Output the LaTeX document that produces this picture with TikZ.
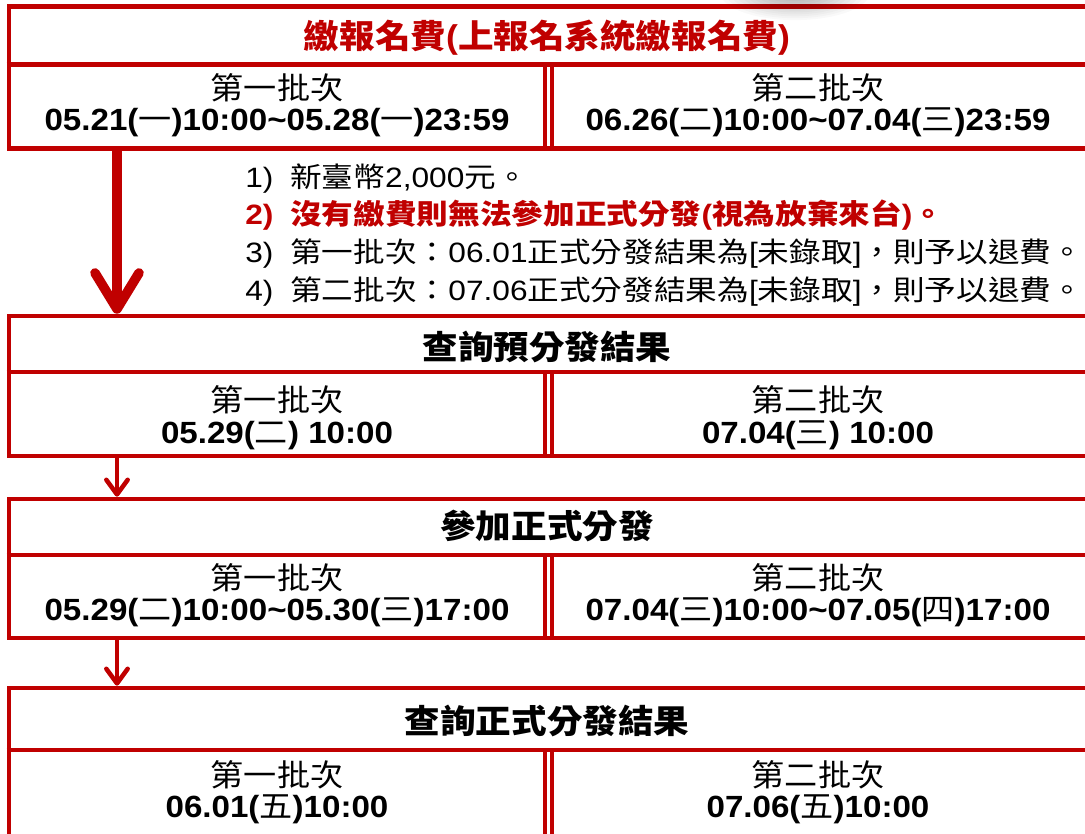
\documentclass[tikz,border=0pt]{standalone}
\usepackage{fontspec}
\setmainfont[FakeStretch=1.08]{Liberation Sans}
\newfontfamily\cjk[FakeStretch=1.08]{Noto Sans CJK TC}
\newfontfamily\latL[FakeStretch=1.13]{Liberation Sans}
\newfontfamily\cjkL[FakeStretch=1.13]{Noto Sans CJK TC}
\usetikzlibrary{arrows.meta}
\definecolor{tred}{RGB}{192,0,0}
\newcommand\zh[1]{{\cjk #1}}
\newcommand\zhr[1]{{\cjk\mdseries #1}}
\newcommand\zl[1]{{\cjkL #1}}
\begin{document}
\begin{tikzpicture}[x=0.75pt,y=-0.75pt,
  box/.style={draw=tred, line width=3.4pt, minimum width=809.25pt, inner sep=0pt},
  rline/.style={draw=tred, line width=3.4pt},
  dline/.style={draw=tred, line width=3pt},
  txt/.style={inner sep=0pt, text height=16.6pt, text depth=0pt, font=\fontsize{23}{26}\selectfont},
  ttl/.style={inner sep=0pt, text height=17.8pt, text depth=0pt, font=\fontsize{24.7}{28}\selectfont\bfseries},
  dat/.style={txt, font=\fontsize{23}{26}\selectfont\bfseries},
  lst/.style={inner sep=0pt, anchor=base west, font=\latL\fontsize{21}{24}\selectfont},
  bigarrow/.style={draw=tred, line width=7.2pt, -{Straight Barb[length=27pt,width=33pt,round]}},
  smallarrow/.style={draw=tred, line width=3.4pt, -{Straight Barb[length=11pt,width=16pt,round]}},
]
\useasboundingbox (0,0) rectangle (1085,833);
\fill[white] (0,0) rectangle (1085,833);

% boxes
\node[box, minimum height=106.5pt] (b1) at (548.5,77.5) {};
\node[box, minimum height=105pt] (b2) at (548.5,386) {};
\node[box, minimum height=104.25pt] (b3) at (548.5,568.5) {};
\node[box, minimum height=117.75pt] (b4) at (548.5,766.5) {};

% title separators
\draw[rline] (b1.west |- 0,64.5) -- (b1.east |- 0,64.5);
\draw[rline] (b2.west |- 0,372) -- (b2.east |- 0,372);
\draw[rline] (b3.west |- 0,555) -- (b3.east |- 0,555);
\draw[rline] (b4.west |- 0,750) -- (b4.east |- 0,750);

% double dividers
\foreach \t/\b in {64.5/148.5, 372/456, 555/638, 750/845}{
  \draw[dline] (544.5,\t) -- (544.5,\b);
  \draw[dline] (552,\t) -- (552,\b);
}

% box 1
\node[ttl, text=tred] (t1) at (547,37) {\zh{繳報名費}(\zh{上報名系統繳報名費})};
\node[txt] (l1a) at (277,88) {\zh{第一批次}};
\node[dat] (d1a) at (277,119) {05.21(\zhr{一})10:00\textasciitilde05.28(\zhr{一})23:59};
\node[txt] (l1b) at (818,88) {\zh{第二批次}};
\node[dat] (d1b) at (818,119) {06.26(\zhr{二})10:00\textasciitilde07.04(\zhr{三})23:59};

% list
\node[lst] (n1) at (245,187) {1)};
\node[lst] (i1) at (290,187) {\zl{新臺幣}2,000\zl{元。}};
\node[lst, text=tred, font=\latL\fontsize{21}{24}\selectfont\bfseries] (n2) at (245,224.5) {2)};
\node[lst, text=tred, font=\latL\fontsize{21}{24}\selectfont\bfseries] (i2) at (290,224.5) {\zl{沒有繳費則無法參加正式分發}(\zl{視為放棄來台})\zl{。}};
\node[lst] (n3) at (245,262) {3)};
\node[lst] (i3) at (290,262) {\zl{第一批次：}06.01\zl{正式分發結果為}[\zl{未錄取}]\zl{，則予以退費。}};
\node[lst] (n4) at (245,300) {4)};
\node[lst] (i4) at (290,300) {\zl{第二批次：}07.06\zl{正式分發結果為}[\zl{未錄取}]\zl{，則予以退費。}};

% box 2
\node[ttl] (t2) at (547,348) {\zh{查詢預分發結果}};
\node[txt] (l2a) at (277,400) {\zh{第一批次}};
\node[dat] (d2a) at (277,432) {05.29(\zhr{二}) 10:00};
\node[txt] (l2b) at (818,400) {\zh{第二批次}};
\node[dat] (d2b) at (818,432) {07.04(\zhr{三}) 10:00};

% box 3
\node[ttl] (t3) at (547,527) {\zh{參加正式分發}};
\node[txt] (l3a) at (277,578) {\zh{第一批次}};
\node[dat] (d3a) at (277,609) {05.29(\zhr{二})10:00\textasciitilde05.30(\zhr{三})17:00};
\node[txt] (l3b) at (818,578) {\zh{第二批次}};
\node[dat] (d3b) at (818,609) {07.04(\zhr{三})10:00\textasciitilde07.05(\zhr{四})17:00};

% box 4
\node[ttl] (t4) at (547,722) {\zh{查詢正式分發結果}};
\node[txt] (l4a) at (277,775) {\zh{第一批次}};
\node[dat] (d4a) at (277,806) {06.01(\zhr{五})10:00};
\node[txt] (l4b) at (818,775) {\zh{第二批次}};
\node[dat] (d4b) at (818,806) {07.06(\zhr{五})10:00};

% arrows
\coordinate (ax) at (117,0);
\draw[bigarrow] (b1.south -| ax) -- (b2.north -| ax);
\draw[smallarrow] (b2.south -| ax) -- (b3.north -| ax);
\draw[smallarrow] (b3.south -| ax) -- (b4.north -| ax);

% soft shadow at the top edge
\foreach \i in {1,...,14}{
  \fill[black, opacity=0.022] (795,-8) ellipse ({80-5*\i} and {30-1.9*\i});
}
\end{tikzpicture}
\end{document}
